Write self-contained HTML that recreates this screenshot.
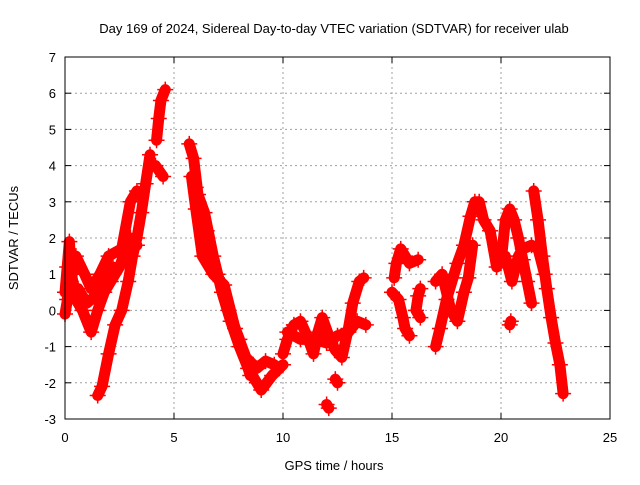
<!DOCTYPE html>
<html><head><meta charset="utf-8"><style>
body{margin:0;background:#fff}
svg{font-family:"Liberation Sans",sans-serif;font-size:13px}
</style></head><body>
<svg id="c" width="640" height="480"></svg>
<script>
const xTicks=[0,5,10,15,20,25];
const yTicks=[-3,-2,-1,0,1,2,3,4,5,6,7];
const trackA=[[1.5,-2.35],[1.7,-2.1],[2.0,-1.2],[2.3,-0.4],[2.6,0.0],[2.9,0.8],[3.1,1.5],[3.3,2.0],[3.5,2.7],[3.7,3.5],[3.9,4.3]];
const trackPeak=[[4.2,4.7],[4.3,5.3],[4.4,5.8],[4.6,6.1]];
const trackPeakLow=[[4.15,4.0],[4.5,3.7]];
const trackB=[[0,0.5],[0.1,1.2],[0.2,1.9],[0.3,1.0],[0.5,0.3],[0.8,0.0],[1.2,-0.6],[1.5,0.0],[1.8,0.5],[2.1,0.8],[2.5,1.2],[2.8,1.7],[3.0,2.0],[3.3,1.8]];
const trackB2=[[0,-0.1],[0.2,0.6],[0.5,1.5],[0.9,1.0],[1.2,0.6],[1.6,1.0],[2.0,1.5],[2.6,1.7],[3.0,3.0],[3.3,3.3]];
const trackB3=[[0.1,0.3],[0.6,0.6],[1.0,0.2],[1.4,0.4],[1.8,1.0],[2.2,1.2]];
const trackC=[[5.7,4.6],[5.9,4.2],[6.1,3.2],[6.4,2.7],[6.8,1.5],[7.2,0.5],[7.6,-0.3],[8.0,-1.0],[8.4,-1.6],[8.8,-2.0],[9.0,-2.2],[9.5,-1.8],[10.0,-1.5]];
const trackC2=[[5.8,3.7],[6.0,2.8],[6.3,1.5],[6.8,1.0],[7.3,0.7],[7.8,-0.5],[8.3,-1.3],[8.8,-1.6],[9.2,-1.4],[9.6,-1.5]];
const trackC3=[[6.0,3.4],[6.5,2.2],[7.0,1.0],[7.5,0.0],[8.0,-0.8],[8.5,-1.8]];
const trackD=[[10.0,-1.2],[10.2,-0.8],[10.5,-0.4],[10.8,-0.3],[11.1,-0.7],[11.4,-1.2],[11.6,-0.6],[11.8,-0.2],[12.1,-0.7],[12.4,-1.1],[12.7,-1.3],[13.0,-0.5],[13.2,0.2],[13.5,0.8],[13.7,0.9]];
const trackD2=[[10.2,-0.6],[10.8,-0.8],[11.5,-0.8],[12.0,-0.9],[12.5,-0.7],[13.0,-0.6],[13.4,-0.3],[13.8,-0.4]];
const trackD3=[[12.4,-1.9],[12.5,-2.0]];
const trackD4=[[12.0,-2.6],[12.1,-2.7]];
const trackE=[[15.1,0.9],[15.2,1.3],[15.4,1.7],[15.6,1.5],[15.8,1.3],[16.2,1.4]];
const trackE2=[[15.0,0.5],[15.3,0.3],[15.5,-0.2],[15.6,-0.5],[15.8,-0.7]];
const trackE3=[[16.3,0.6],[16.2,0.4],[16.1,0.0],[16.3,-0.2]];
const trackF=[[17.0,-1.0],[17.2,-0.5],[17.5,0.3],[17.8,0.9],[18.0,1.3],[18.3,1.8],[18.6,2.6],[18.8,3.0],[19.0,3.0],[19.2,2.5],[19.5,2.2],[19.8,1.2]];
const trackF2=[[17.0,0.8],[17.3,1.0],[17.7,0.0],[18.0,-0.3],[18.3,0.5],[18.5,0.9],[18.7,1.8]];
const trackG=[[20.0,1.3],[20.2,2.5],[20.4,2.8],[20.6,2.5],[20.8,2.0],[21.0,1.4],[21.2,0.8],[21.4,0.2]];
const trackG2=[[20.2,1.5],[20.5,0.8],[20.8,1.5],[21.0,1.7],[21.4,1.8],[21.7,1.7],[22.0,1.0]];
const trackG3=[[21.5,3.3],[21.7,2.5],[21.9,1.5],[22.1,0.6],[22.3,-0.2],[22.5,-0.9],[22.7,-1.5],[22.85,-2.3]];
const trackG4=[[20.4,-0.4],[20.45,-0.3]];
const tracks=[trackA,trackPeak,trackPeakLow,trackB,trackB2,trackB3,trackC,trackC2,trackC3,trackD,trackD2,trackD3,trackD4,trackE,trackE2,trackE3,trackF,trackF2,trackG,trackG2,trackG3,trackG4];

const X0=65,X1=610,Y0=419,Y1=57;
const xs=t=>X0+(t-0)/25*(X1-X0);
const ys=v=>Y0-(v+3)/10*(Y0-Y1);
const svg=document.getElementById('c');const NS='http://www.w3.org/2000/svg';
function mk(tag,attrs,parent){const e=document.createElementNS(NS,tag);for(const k in attrs)e.setAttribute(k,attrs[k]);(parent||svg).appendChild(e);return e;}
const grid=mk('g',{});


xTicks.forEach(t=>{
 if(t>0&&t<25){const l=mk('line',{x1:xs(t),x2:xs(t),y1:Y0,y2:Y1,stroke:'#a0a0a0','stroke-dasharray':'2,3'},grid);
 
 }
 mk('line',{x1:xs(t),x2:xs(t),y1:Y0,y2:Y0-6,stroke:'#000'});mk('line',{x1:xs(t),x2:xs(t),y1:Y1,y2:Y1+6,stroke:'#000'});
 const tx=mk('text',{x:xs(t),y:Y0+23,'text-anchor':'middle'});tx.textContent=t;
 
 
});
yTicks.forEach(v=>{
 if(v>-3&&v<7){const l=mk('line',{x1:X0,x2:X1,y1:ys(v),y2:ys(v),stroke:'#a0a0a0','stroke-dasharray':'2,3'},grid);
 
 }
 mk('line',{x1:X0,x2:X0+6,y1:ys(v),y2:ys(v),stroke:'#000'});mk('line',{x1:X1,x2:X1-6,y1:ys(v),y2:ys(v),stroke:'#000'});
 const tx=mk('text',{x:X0-9,y:ys(v)+5,'text-anchor':'end'});tx.textContent=v;
 
 
});
const series=mk('g',{});


tracks.forEach(tr=>{
 const pl=mk('polyline',{points:tr.map(p=>xs(p[0])+','+ys(p[1])).join(' '),fill:'none',stroke:'#f00','stroke-width':11,'stroke-linejoin':'round','stroke-linecap':'round'},series);
 
 
 tr.forEach(p=>{const x=xs(p[0]),y=ys(p[1]);
  const m=mk('path',{d:`M${x-8},${y}H${x+8}M${x},${y-8}V${y+8}`,stroke:'#f00','stroke-width':1.5},series);
  
  
 });
});
const fr=mk('rect',{x:X0,y:Y1,width:X1-X0,height:Y0-Y1,fill:'none',stroke:'#000'});


const ti=mk('text',{x:334,y:33,'text-anchor':'middle'});ti.textContent='Day 169 of 2024, Sidereal Day-to-day VTEC variation (SDTVAR) for receiver ulab';


const xl=mk('text',{x:334,y:470,'text-anchor':'middle'});xl.textContent='GPS time / hours';


const yl=mk('text',{x:0,y:0,'text-anchor':'middle',transform:'translate(18,238) rotate(-90)'});yl.textContent='SDTVAR / TECUs';


</script>
</body></html>
